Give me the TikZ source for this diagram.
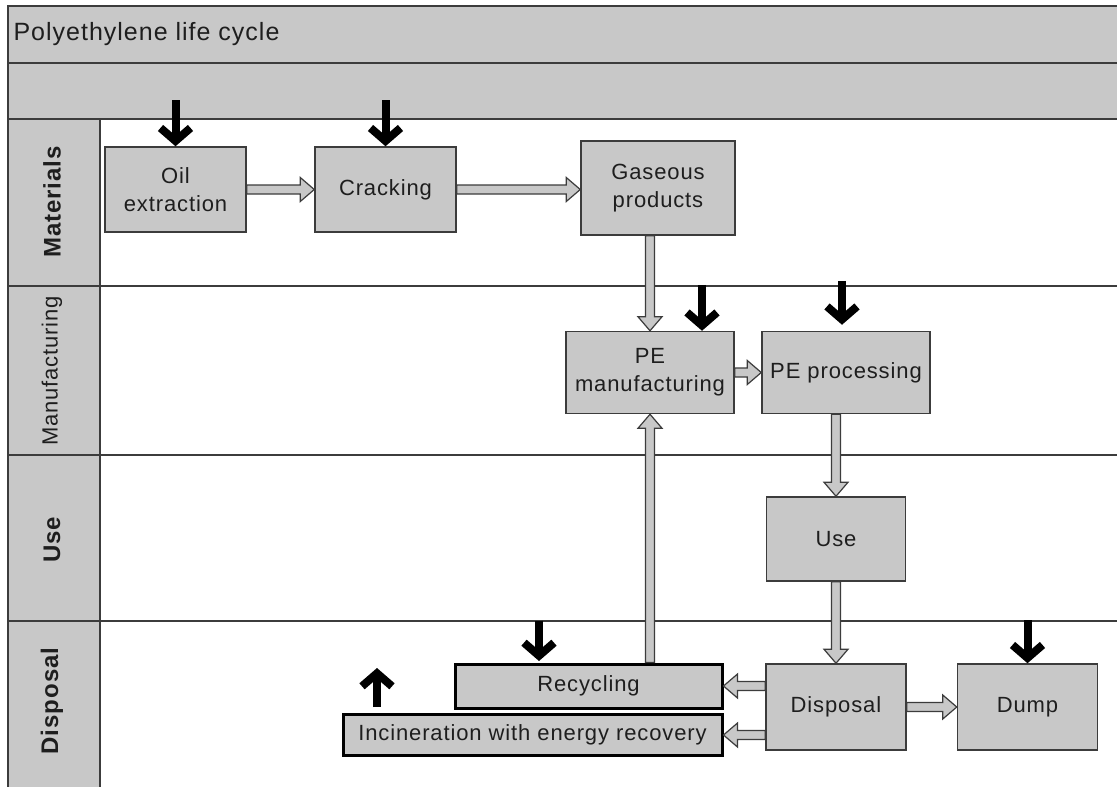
\documentclass[tikz,border=0pt]{standalone}
\usepackage{fontspec}
\setmainfont{Liberation Sans}[LetterSpace=4]
\usetikzlibrary{arrows.meta,calc}
\definecolor{boxg}{RGB}{200,200,200}
\definecolor{ln}{RGB}{60,60,60}
\definecolor{txt}{RGB}{30,30,30}
\tikzset{
  box/.style={draw=ln, line width=1.5pt, fill=boxg, align=center, text=txt,
    font=\fontsize{22}{28}\selectfont, inner sep=0pt},
  thickbox/.style={box, draw=black, line width=3pt},
  harrow/.style={draw=ln, line width=1.2pt, fill=boxg, line join=miter},
  blk/.style={draw=black, line width=8pt, -{Straight Barb[length=13pt,width=30pt]}},
  lane/.style={rotate=90, font=\fontsize{24}{28}\selectfont\bfseries, text=txt},
  frame/.style={draw=ln, line width=2pt},
}
\newcommand\hollow[2]{%
  \coordinate (hA) at (#1);
  \coordinate (hB) at (#2);
  \coordinate (hH) at ($(hB)!14pt!(hA)$);
  \draw[harrow] ($(hA)!4.5pt!90:(hB)$) -- ($(hH)!4.5pt!-90:(hA)$) --
    ($(hH)!12pt!-90:(hA)$) -- (hB) -- ($(hH)!12pt!90:(hA)$) --
    ($(hH)!4.5pt!90:(hA)$) -- ($(hA)!4.5pt!-90:(hB)$) -- cycle;}
\begin{document}
\begin{tikzpicture}[x=1pt,y=-1pt]
\useasboundingbox (0,0) rectangle (1117,787);
\fill[white] (0,0) rectangle (1117,787);
% frame
\path[frame, fill=boxg] (8,6) rectangle (1130,63);
\path[frame, fill=boxg] (8,63) rectangle (1130,119);
\path[frame, fill=boxg] (8,119) rectangle (100,800);
\draw[frame] (8,286) -- (1130,286);
\draw[frame] (8,455) -- (1130,455);
\draw[frame] (8,621) -- (1130,621);
\node[anchor=west, font=\fontsize{25}{30}\selectfont, text=txt] (title) at (10,34) {Polyethylene life cycle};
% lanes
\node[lane] (lmat) at (52,202) {Materials};
\node[lane, font=\fontsize{22}{26}\selectfont] (lman) at (52,371) {Manufacturing};
\node[lane] (luse) at (52,540) {Use};
\node[lane] (ldis) at (52,701) {Disposal};
% boxes
\node[box, minimum width=141pt, minimum height=85pt] (oil) at (175.5,189.5) {Oil\\extraction};
\node[box, minimum width=141pt, minimum height=85pt] (crack) at (385.5,189.5) {Cracking};
\node[box, minimum width=154pt, minimum height=94pt] (gas) at (658,188) {Gaseous\\products};
\node[box, minimum width=168pt, minimum height=82pt] (pem) at (650,372.5) {PE\\manufacturing};
\node[box, minimum width=168pt, minimum height=82pt] (ppro) at (846,372.5) {PE processing};
\node[box, minimum width=139pt, minimum height=84pt] (use) at (836,539) {Use};
\node[box, minimum width=140pt, minimum height=86pt] (disp) at (836,707) {Disposal};
\node[box, minimum width=140pt, minimum height=86pt] (dump) at (1027.5,707) {Dump};
\node[thickbox, minimum width=267pt, minimum height=44pt] (rec) at (588.5,686) {Recycling};
\node[thickbox, minimum width=379pt, minimum height=41pt] (inc) at (532.5,735) {Incineration with energy recovery};
% hollow flow arrows
\hollow{oil.east}{crack.west}
\hollow{crack.east}{gas.west |- crack.east}
\hollow{pem.north |- gas.south}{pem.north}
\hollow{pem.east}{ppro.west}
\hollow{use.north |- ppro.south}{use.north}
\hollow{use.south}{disp.north}
\hollow{disp.east}{dump.west}
\hollow{disp.west |- rec.east}{rec.east}
\hollow{disp.west |- inc.east}{inc.east}
\hollow{pem.south |- rec.north}{pem.south}
% black input/output arrows
\coordinate (b1) at ($(oil.north)+(0,-46)$);
\draw[blk] (b1) -- (oil.north);
\coordinate (b2) at ($(crack.north)+(0,-46)$);
\draw[blk] (b2) -- (crack.north);
\coordinate (b3s) at ($(pem.north)+(52,-46)$);
\coordinate (b3e) at ($(pem.north)+(52,0)$);
\draw[blk] (b3s) -- (b3e);
\coordinate (b4s) at ($(ppro.north)+(-4,-50)$);
\coordinate (b4e) at ($(ppro.north)+(-4,-6)$);
\draw[blk] (b4s) -- (b4e);
\coordinate (b5s) at ($(rec.north)+(-49.5,-42)$);
\coordinate (b5e) at ($(rec.north)+(-49.5,-1.5)$);
\draw[blk] (b5s) -- (b5e);
\coordinate (b6) at ($(dump.north)+(0,-43)$);
\draw[blk] (b6) -- (dump.north);
\coordinate (b7s) at ($(inc.north)+(-155.5,-6)$);
\coordinate (b7e) at ($(inc.north)+(-155.5,-45)$);
\draw[blk] (b7s) -- (b7e);
\end{tikzpicture}
\end{document}
